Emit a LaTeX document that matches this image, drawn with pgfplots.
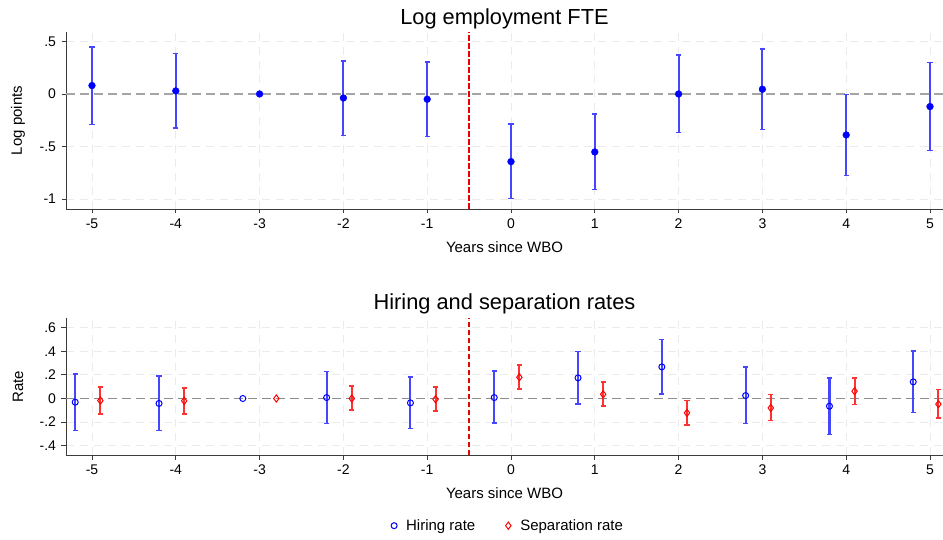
\documentclass[border=0pt]{standalone}
\usepackage{fontspec}
\setmainfont{Liberation Sans}
\usepackage{pgfplots}
\usepackage{pgfplotstable}
\pgfplotsset{compat=1.18}

\definecolor{gridgray}{RGB}{235,235,235}
\definecolor{zerogray}{RGB}{165,165,165}
\definecolor{axisgray}{RGB}{60,60,60}
\definecolor{barblue}{RGB}{70,70,255}
\definecolor{barred}{RGB}{255,50,50}
\definecolor{vline}{RGB}{235,0,0}

% Event-study coefficients with 95% confidence bounds
\pgfplotstableread{
x     b       lo      hi
-5    0.080  -0.289   0.447
-4    0.029  -0.324   0.385
-2   -0.038  -0.393   0.314
-1   -0.050  -0.403   0.305
 0   -0.644  -0.996  -0.286
 1   -0.552  -0.908  -0.193
 2    0.000  -0.368   0.371
 3    0.045  -0.336   0.429
 4   -0.390  -0.774  -0.006
 5   -0.120  -0.539   0.299
}\fte

\pgfplotstableread{
x     b       lo      hi
-5.2 -0.031  -0.271   0.208
-4.2 -0.042  -0.271   0.192
-2.2  0.008  -0.212   0.229
-1.2 -0.037  -0.254   0.183
-0.2  0.008  -0.209   0.234
 0.8  0.175  -0.048   0.398
 1.8  0.268   0.039   0.500
 2.8  0.025  -0.212   0.265
 3.8 -0.065  -0.305   0.172
 4.8  0.141  -0.119   0.403
}\hiring

\pgfplotstableread{
x     b       lo      hi
-4.9 -0.017  -0.130   0.096
-3.9 -0.020  -0.130   0.087
-1.9  0.000  -0.097   0.104
-0.9 -0.006  -0.108   0.096
 0.1  0.180   0.079   0.285
 1.1  0.036  -0.065   0.141
 2.1 -0.122  -0.226  -0.017
 3.1 -0.080  -0.186   0.034
 4.1  0.062  -0.051   0.172
 5.1 -0.048  -0.167   0.076
}\separation

\pgfplotsset{
  panel/.style={
    scale only axis, width=877pt,
    xmin=-5.31, xmax=5.155,
    axis x line*=bottom, axis y line*=left,
    axis line style={axisgray, line width=0.9pt},
    xtick={-5,...,5},
    xticklabels={-5,-4,-3,-2,-1,0,1,2,3,4,5},
    tick align=outside, major tick length=4.5pt,
    tick style={axisgray, line width=0.9pt},
    grid=major,
    major grid style={gridgray, line width=0.9pt, dash pattern=on 8pt off 6pt},
    ticklabel style={font=\fontsize{14}{16}\selectfont},
    xticklabel style={yshift=-2pt},
    yticklabel style={xshift=-2pt},
    label style={font=\fontsize{15}{18}\selectfont, inner sep=0pt},
    xlabel style={at={(axis description cs:0.5,0)}, anchor=north, yshift=-32.5pt},
    ylabel style={at={(axis description cs:-0.0547,0.5)}, anchor=center},
    title style={font=\fontsize{21.8}{26}\selectfont, inner sep=0pt,
                 at={(axis description cs:0.5,1)}, anchor=south},
    xlabel={Years since WBO},
    clip=false,
  },
  % marker with confidence interval; the legend shows the marker alone
  ci/.style={
    only marks,
    legend image code/.code={\path[draw=none] (0pt,0pt) -- (20pt,0pt);
      \draw[##1] plot coordinates {(10pt,0pt)};},
    error bars/.cd, y dir=both, y explicit,
    error bar style={#1, line width=2.1pt, solid},
    error mark=-,
    error mark options={#1, rotate=90, mark size=2.6pt, line width=1.5pt, solid},
  },
  refline/.style={draw=vline, line width=1.4pt, dash pattern=on 5.5pt off 2.5pt, forget plot},
}

\begin{document}
\begin{tikzpicture}[x=1pt,y=1pt]
\path[use as bounding box] (0,0) rectangle (943,539);

% Top panel: log employment
\begin{axis}[panel,
  at={(66pt,330pt)}, anchor=south west, height=177pt,
  ymin=-1.095, ymax=0.59,
  ytick={-1,-0.5,0,0.5}, yticklabels={-1,-.5,0,.5},
  ylabel={Log points},
  title={Log employment FTE}, title style={yshift=-3pt},
]
\addplot[draw=zerogray, line width=1.3pt, dash pattern=on 9pt off 5pt, forget plot]
  coordinates {(-5.31,0) (5.155,0)};
\addplot[refline] coordinates {(-0.5,-1.095) (-0.5,0.59)};
\addplot[blue, mark=*, mark size=3.4pt, ci=barblue]
  table[x=x, y=b, y error plus expr=\thisrow{hi}-\thisrow{b},
        y error minus expr=\thisrow{b}-\thisrow{lo}] {\fte};
\addplot[blue, only marks, mark=*, mark size=3.4pt, forget plot]
  coordinates {(-3,0)};
\end{axis}

% Bottom panel: hiring and separation rates
\begin{axis}[panel,
  at={(66pt,84pt)}, anchor=south west, height=136.7pt,
  ymin=-0.479, ymax=0.68,
  ytick={-0.4,-0.2,0,0.2,0.4,0.6}, yticklabels={-.4,-.2,0,.2,.4,.6},
  ylabel={Rate},
  title={Hiring and separation rates}, title style={yshift=-2.4pt},
  legend columns=2,
  legend style={at={(axis description cs:0.5,-0.517)}, anchor=center,
    draw=none, fill=none, font=\fontsize{15}{18}\selectfont,
    /tikz/every even column/.append style={column sep=21pt}},
]
\addplot[draw=zerogray!85!black, line width=1.3pt, dash pattern=on 9pt off 5pt, forget plot]
  coordinates {(-5.31,0) (5.155,0)};
\addplot[refline] coordinates {(-0.5,-0.479) (-0.5,0.68)};
\addplot[blue, mark=o, mark size=3pt, mark options={line width=1pt}, ci=barblue]
  table[x=x, y=b, y error plus expr=\thisrow{hi}-\thisrow{b},
        y error minus expr=\thisrow{b}-\thisrow{lo}] {\hiring};
\addlegendentry{Hiring rate}
\addplot[red, mark=diamond, mark size=3.6pt, mark options={line width=1pt}, ci=barred]
  table[x=x, y=b, y error plus expr=\thisrow{hi}-\thisrow{b},
        y error minus expr=\thisrow{b}-\thisrow{lo}] {\separation};
\addlegendentry{Separation rate}
\addplot[blue, only marks, mark=o, mark size=3pt, mark options={line width=1pt}, forget plot]
  coordinates {(-3.2,0)};
\addplot[red, only marks, mark=diamond, mark size=3.6pt, mark options={line width=1pt}, forget plot]
  coordinates {(-2.8,0)};
\end{axis}
\end{tikzpicture}
\end{document}
